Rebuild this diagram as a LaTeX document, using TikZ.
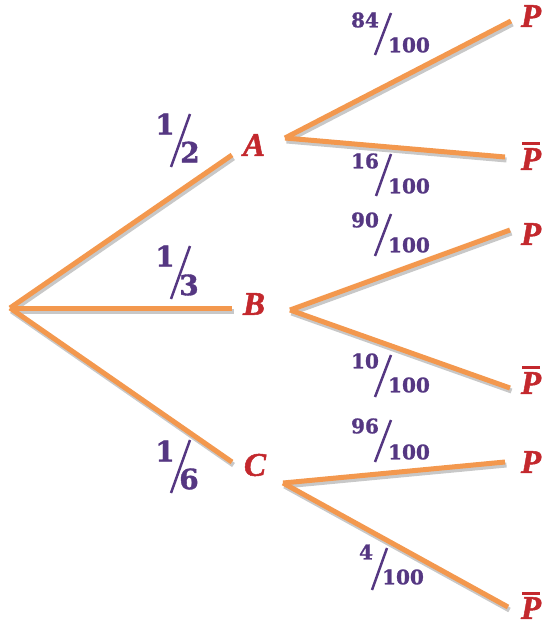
\documentclass[tikz,border=0pt]{standalone}
\usepackage{fontspec}
\setmainfont{DejaVu Serif}[BoldFeatures={FakeBold=1.2}]
\newfontfamily\letterfont{Liberation Serif}[BoldItalicFeatures={FakeBold=1.5}]
\definecolor{branch}{RGB}{243,152,78}
\definecolor{shadowgray}{RGB}{200,200,200}
\definecolor{frac}{RGB}{85,55,130}
\definecolor{lettr}{RGB}{195,40,45}
\tikzset{
  edge/.style={branch, line width=5pt},
  edgeshadow/.style={shadowgray, line width=5pt},
  lab/.style={font=\letterfont\bfseries\itshape\fontsize{33}{33}\selectfont, text=lettr, inner sep=0pt},
  big/.style={font=\bfseries\fontsize{28}{28}\selectfont, text=frac, inner sep=0pt},
  small/.style={font=\bfseries\fontsize{20}{20}\selectfont, text=frac, inner sep=0pt},
  slash/.style={frac, line width=2.5pt},
  bar/.style={lettr, line width=3pt},
}
\newcommand{\branch}[2]{%
  \draw[edgeshadow] ([shift={(1.5,3)}]#1) -- ([shift={(1.5,3)}]#2);
  \draw[edge] (#1) -- (#2);}
\begin{document}
\begin{tikzpicture}[x=1pt,y=-1pt]
\useasboundingbox (0,0) rectangle (551,631);
% coordinates
\coordinate (root) at (10,308);
\coordinate (eA) at (232,155);
\coordinate (eB) at (232,308);
\coordinate (eC) at (232,462);
\coordinate (sA) at (285,138);
\coordinate (sB) at (290,310);
\coordinate (sC) at (283,483);
\coordinate (eAP) at (511,21);
\coordinate (eAQ) at (505,157);
\coordinate (eBP) at (510,230);
\coordinate (eBQ) at (510,388);
\coordinate (eCP) at (505,462);
\coordinate (eCQ) at (508,607);
% branches
\branch{root}{eA}
\branch{root}{eB}
\branch{root}{eC}
\branch{sA}{eAP}
\branch{sA}{eAQ}
\branch{sB}{eBP}
\branch{sB}{eBQ}
\branch{sC}{eCP}
\branch{sC}{eCQ}
% letters
\node[lab] (A) at (254,145) {A};
\node[lab] (B) at (254,304) {B};
\node[lab] (C) at (255,465) {C};
\node[lab] (AP) at (531,16) {P};
\node[lab] (BP) at (531,234) {P};
\node[lab] (CP) at (531,462) {P};
\node[lab] (AQ) at (531,159) {P};
\node[lab] (BQ) at (531,383) {P};
\node[lab] (CQ) at (531,608) {P};
\foreach \n in {AQ,BQ,CQ}{
  \draw[bar] ([xshift=-9pt,yshift=4pt]\n.north) -- ([xshift=9pt,yshift=4pt]\n.north);}
% first-level fractions
\node[big] (n1) at (165,124) {1};
\node[big] (d1) at (190,152) {2};
\draw[slash] (171,167) -- (190,114);
\node[big] (n2) at (165,256) {1};
\node[big] (d2) at (189,285) {3};
\draw[slash] (171,299) -- (190,246);
\node[big] (n3) at (165,451) {1};
\node[big] (d3) at (189,479) {6};
\draw[slash] (171,493) -- (190,440);
% second-level fractions
\node[small] (n4) at (365,20) {84};
\draw[slash] (375,55) -- (391,13);
\node[small] (d4) at (409,45) {100};
\node[small] (n5) at (365,161) {16};
\draw[slash] (376,196) -- (391,154);
\node[small] (d5) at (409,186) {100};
\node[small] (n6) at (365,220) {90};
\draw[slash] (375,256) -- (391,214);
\node[small] (d6) at (409,245) {100};
\node[small] (n7) at (365,361) {10};
\draw[slash] (375,397) -- (391,355);
\node[small] (d7) at (409,385) {100};
\node[small] (n8) at (365,426) {96};
\draw[slash] (375,462) -- (391,420);
\node[small] (d8) at (409,452) {100};
\node[small] (n9) at (366,552) {4};
\draw[slash] (372,590) -- (387,548);
\node[small] (d9) at (403,577) {100};
\end{tikzpicture}
\end{document}
